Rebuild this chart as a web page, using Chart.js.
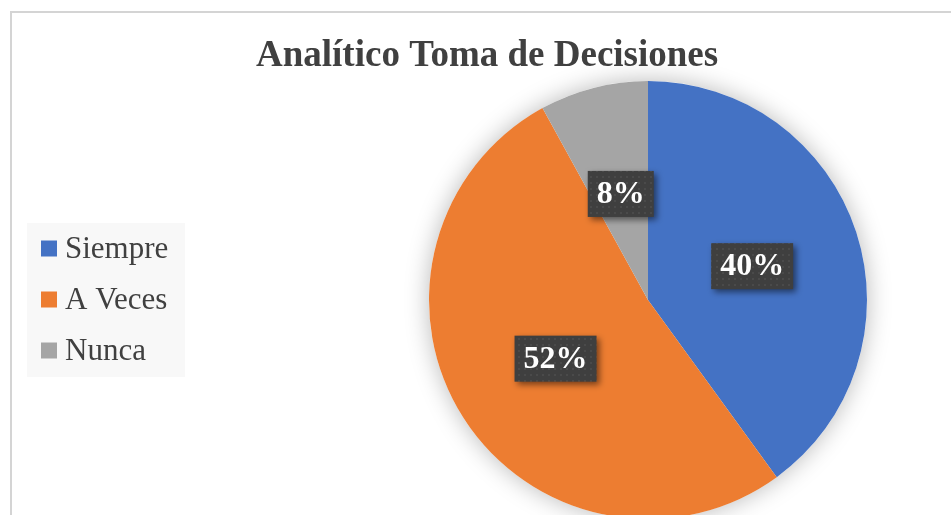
<!DOCTYPE html>
<html>
<head>
<meta charset="utf-8">
<script src="https://cdn.jsdelivr.net/npm/chart.js@4"></script>
<style>
  html, body { margin: 0; padding: 0; background: #fff; overflow: hidden; }
  #frame { position: absolute; left: 10px; top: 11px; width: 2000px; height: 2000px;
           border: 2px solid #d4d4d4; }
  #chart { position: absolute; left: 0; top: 0; }
</style>
</head>
<body>
<div id="frame"></div>
<canvas id="chart" width="1100" height="540"></canvas>
<script>
// data
const categories = ['Siempre', 'A Veces', 'Nunca'];
const percents = [40, 52, 8];
const sliceColors = ['#4472C4', '#ED7D31', '#A5A5A5'];

const serif = '"Liberation Serif", "Times New Roman", serif';

// small dotted texture for the label boxes
function makeDots() {
  const c = document.createElement('canvas');
  c.width = 6; c.height = 6;
  const g = c.getContext('2d');
  g.fillStyle = '#3f3f3f';
  g.fillRect(0, 0, 6, 6);
  g.fillStyle = '#4a4a4a';
  g.fillRect(2, 2, 2, 2);
  return c;
}

// soft halo under the pie
const pieShadow = {
  id: 'pieShadow',
  beforeDatasetsDraw(chart) {
    const arc = chart.getDatasetMeta(0).data[0];
    if (!arc) return;
    const ctx = chart.ctx;
    ctx.save();
    ctx.shadowColor = 'rgba(0,0,0,0.28)';
    ctx.shadowBlur = 24;
    ctx.beginPath();
    ctx.arc(arc.x, arc.y, arc.outerRadius, 0, Math.PI * 2);
    ctx.fillStyle = '#fff';
    ctx.fill();
    ctx.restore();
  }
};

// legend on the left, grey panel like the original
const sideLegend = {
  id: 'sideLegend',
  afterDraw(chart) {
    const ctx = chart.ctx;
    ctx.save();
    ctx.fillStyle = '#f8f8f8';
    ctx.fillRect(27, 223, 158, 154);
    ctx.font = '31px ' + serif;
    ctx.textBaseline = 'middle';
    ctx.textAlign = 'left';
    chart.data.labels.forEach((lab, i) => {
      const cy = 248.5 + i * 51;
      ctx.fillStyle = chart.data.datasets[0].backgroundColor[i];
      ctx.fillRect(41, cy - 8, 16, 16);
      ctx.fillStyle = '#404040';
      ctx.fillText(lab, 65, cy + 1);
    });
    ctx.restore();
  }
};

// dark boxed percentage labels
const boxLabels = {
  id: 'boxLabels',
  afterDatasetsDraw(chart) {
    const ctx = chart.ctx;
    const pat = ctx.createPattern(makeDots(), 'repeat');
    const vals = chart.data.datasets[0].data;
    chart.getDatasetMeta(0).data.forEach((arc, i) => {
      const p = arc.tooltipPosition();
      const txt = vals[i] + '%';
      ctx.save();
      ctx.font = 'bold 32px ' + serif;
      const w = ctx.measureText(txt).width + 18;
      const h = 46;
      ctx.shadowColor = 'rgba(0,0,0,0.5)';
      ctx.shadowBlur = 6;
      ctx.shadowOffsetX = 3;
      ctx.shadowOffsetY = 3;
      ctx.fillStyle = pat;
      ctx.fillRect(p.x - w / 2, p.y - h / 2, w, h);
      ctx.shadowColor = 'transparent';
      ctx.fillStyle = '#fff';
      ctx.textAlign = 'center';
      ctx.textBaseline = 'middle';
      ctx.fillText(txt, p.x, p.y + 1);
      ctx.restore();
    });
  }
};

new Chart(document.getElementById('chart'), {
  type: 'pie',
  data: {
    labels: categories,
    datasets: [{
      data: percents,
      backgroundColor: sliceColors,
      borderWidth: 0
    }]
  },
  options: {
    responsive: false,
    animation: false,
    layout: { padding: { left: 256, right: 60, top: 0, bottom: 21 } },
    plugins: {
      legend: { display: false },
      tooltip: { enabled: false },
      title: {
        display: true,
        text: 'Analítico Toma de Decisiones',
        align: 'start',
        color: '#404040',
        font: { family: serif, size: 37, weight: 'bold', lineHeight: 1 },
        padding: { top: 38, bottom: 6 }
      }
    }
  },
  plugins: [pieShadow, sideLegend, boxLabels]
});
</script>
</body>
</html>
